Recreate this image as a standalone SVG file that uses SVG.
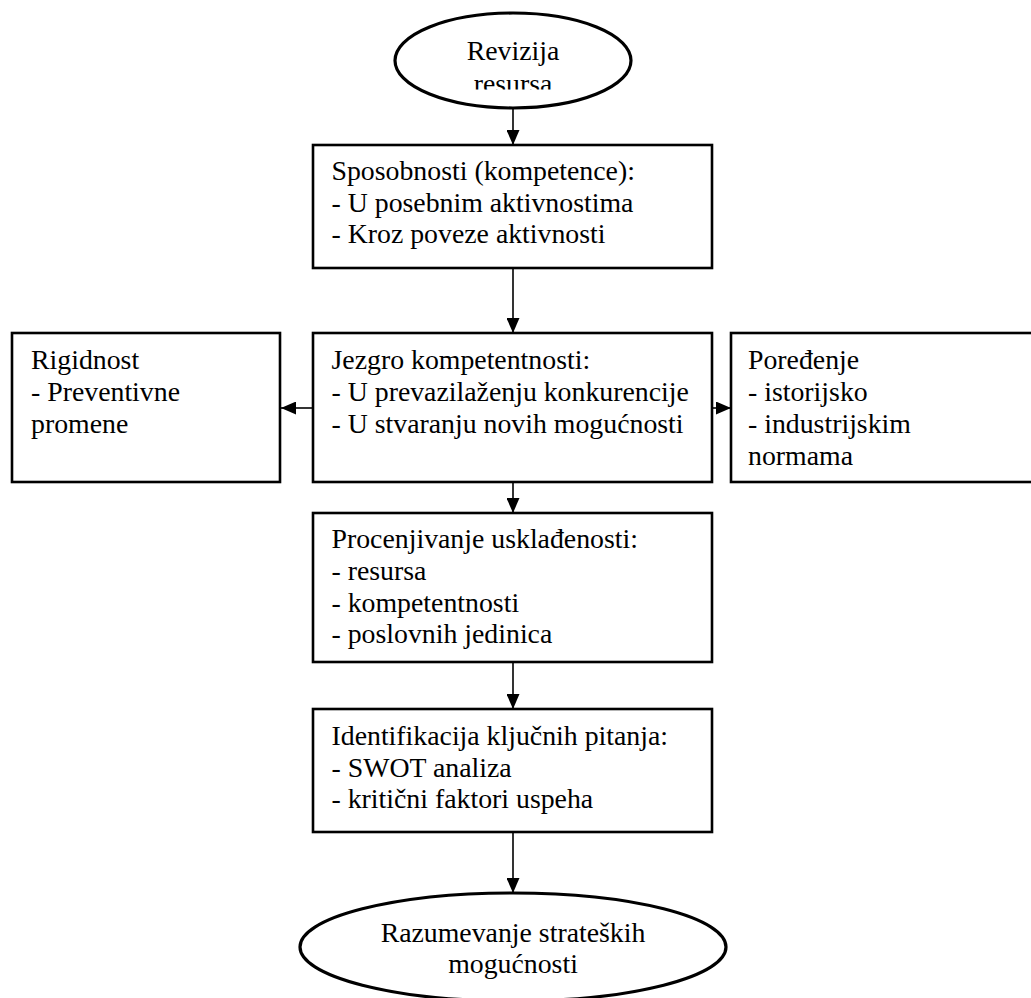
<svg xmlns="http://www.w3.org/2000/svg" width="1031" height="998" viewBox="0 0 1031 998">
<style>
.box{fill:#fff;stroke:#000;stroke-width:2.6}
.ell{fill:#fff;stroke:#000;stroke-width:3.2}
.t{font-family:"Liberation Serif","Times New Roman",serif;font-size:27.8px;fill:#000}
.c{text-anchor:middle}
.conn{stroke:#000;stroke-width:1.6;fill:none;marker-end:url(#ah)}
</style>
<defs>
<marker id="ah" markerUnits="userSpaceOnUse" markerWidth="15" markerHeight="13" refX="15" refY="6.5" orient="auto" viewBox="0 0 15 13">
<path d="M0,0 L15,6.5 L0,13 z" fill="#000"/>
</marker>
<clipPath id="clipTop"><rect x="395" y="10" width="236" height="79.5"/></clipPath>
</defs>
<rect width="1031" height="998" fill="#fff"/>
<g id="connectors">
<line class="conn" x1="513" y1="108" x2="513" y2="145"/>
<line class="conn" x1="513" y1="268" x2="513" y2="333"/>
<line class="conn" x1="313" y1="408" x2="281" y2="408"/>
<line class="conn" x1="712" y1="408" x2="731" y2="408"/>
<line class="conn" x1="513" y1="482" x2="513" y2="513"/>
<line class="conn" x1="513" y1="662" x2="513" y2="709"/>
<line class="conn" x1="513" y1="832" x2="513" y2="893"/>
</g>
<g id="start">
<ellipse class="ell" cx="513" cy="60.5" rx="118" ry="47.5"/>
<g clip-path="url(#clipTop)">
<text class="t c" x="513" y="60">Revizija</text>
<text class="t c" x="513" y="93">resursa</text>
</g>
</g>
<g id="sposobnosti">
<rect class="box" x="313" y="145" width="399" height="123"/>
<text class="t" x="331.5" y="180">Sposobnosti (kompetence):</text>
<text class="t" x="331.5" y="212">- U posebnim aktivnostima</text>
<text class="t" x="331.5" y="243">- Kroz poveze aktivnosti</text>
</g>
<g id="rigidnost">
<rect class="box" x="12" y="333" width="268" height="149"/>
<text class="t" x="31" y="369">Rigidnost</text>
<text class="t" x="31" y="401">- Preventivne</text>
<text class="t" x="31" y="433">promene</text>
</g>
<g id="jezgro">
<rect class="box" x="313" y="333" width="399" height="149"/>
<text class="t" x="331.5" y="369">Jezgro kompetentnosti:</text>
<text class="t" x="331.5" y="401">- U prevazilaženju konkurencije</text>
<text class="t" x="331.5" y="433">- U stvaranju novih mogućnosti</text>
</g>
<g id="poredjenje">
<rect class="box" x="731" y="333" width="310" height="149"/>
<text class="t" x="748" y="369">Poređenje</text>
<text class="t" x="748" y="401">- istorijsko</text>
<text class="t" x="748" y="433">- industrijskim</text>
<text class="t" x="748" y="465">normama</text>
</g>
<g id="procenjivanje">
<rect class="box" x="313" y="513" width="399" height="149"/>
<text class="t" x="331.5" y="548">Procenjivanje usklađenosti:</text>
<text class="t" x="331.5" y="580">- resursa</text>
<text class="t" x="331.5" y="612">- kompetentnosti</text>
<text class="t" x="331.5" y="643">- poslovnih jedinica</text>
</g>
<g id="identifikacija">
<rect class="box" x="313" y="709" width="399" height="123"/>
<text class="t" x="331.5" y="745">Identifikacija ključnih pitanja:</text>
<text class="t" x="331.5" y="777">- SWOT analiza</text>
<text class="t" x="331.5" y="808">- kritični faktori uspeha</text>
</g>
<g id="end">
<ellipse class="ell" cx="513" cy="947" rx="213" ry="54"/>
<text class="t c" x="513" y="942">Razumevanje strateških</text>
<text class="t c" x="513" y="973">mogućnosti</text>
</g>
</svg>
